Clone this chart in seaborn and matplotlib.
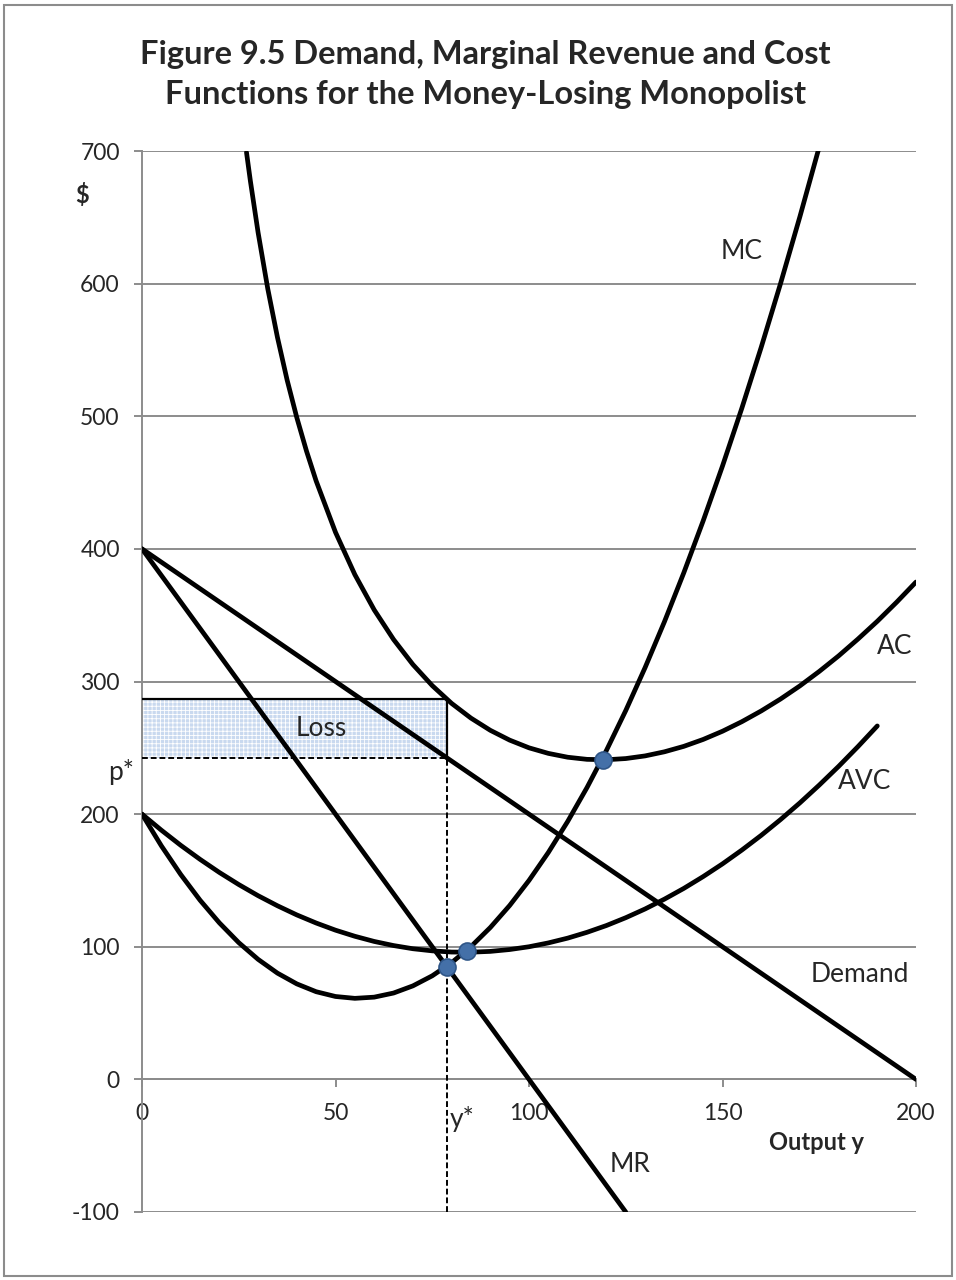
import matplotlib
matplotlib.use("Agg")
import matplotlib.pyplot as plt
import seaborn as sns
import numpy as np
from matplotlib.patches import Rectangle

sns.set_theme(style="white")
plt.rcParams['font.family'] = ['Lato', 'DejaVu Sans']
plt.rcParams['hatch.linewidth'] = 0.6

# ---- data ----
demand_x = [0, 200]
demand_y = [400, 0]
mr_x = [0, 125]
mr_y = [400, -100]

mc_x = list(range(0, 180, 5))
mc_y = [200, 176.1, 154.5, 135.1, 118, 103.1, 90.5, 80.1, 72, 66.1, 62.5, 61.1,
        62, 65.1, 70.5, 78.1, 88, 100.1, 114.5, 131.1, 150, 171.1, 194.5, 220.1,
        248, 278.1, 310.5, 345.1, 382, 421.1, 462.5, 506.1, 552, 600.1, 650.5, 703.1]

avc_x = list(range(0, 195, 5))
avc_y = [200, 187.9, 176.5, 165.9, 156, 146.9, 138.5, 130.9, 124, 117.9, 112.5,
         107.9, 104, 100.9, 98.5, 96.9, 96, 95.9, 96.5, 97.9, 100, 102.9, 106.5,
         110.9, 116, 121.9, 128.5, 135.9, 144, 152.9, 162.5, 172.9, 184, 195.9,
         208.5, 221.9, 236, 250.9, 266.5]

ac_x = [27, 28, 30, 32.5, 35, 37.5, 40, 42.5, 45] + list(range(50, 205, 5))
ac_y = [699.0, 677.5, 638.5, 596.1, 559.5, 527.3, 499, 473.8, 451.2,
        412.5, 380.6, 354, 331.7, 312.8, 296.9, 283.5, 272.4, 263.2, 255.8, 250,
        245.8, 242.9, 241.3, 241, 241.9, 243.9, 247, 251.1, 256.3, 262.5, 269.7,
        277.8, 286.8, 296.7, 307.6, 319.3, 332, 345.4, 359.8, 375]

dot_x = [78.7, 84.0, 119.0]
dot_y = [85, 96.5, 241]

y_star = 78.7
p_star = 242.6
ac_at_ystar = 286.5

x_ticks = [0, 50, 100, 150, 200]
y_ticks = [-100, 0, 100, 200, 300, 400, 500, 600, 700]

title = "Figure 9.5 Demand, Marginal Revenue and Cost\nFunctions for the Money-Losing Monopolist"

# ---- figure ----
fig = plt.figure(figsize=(9.56, 12.8), dpi=100)
ax = fig.add_axes([142/956, 1 - 1212/1280, (916-142)/956, (1212-151)/1280])

grid_col = '#8c8c8c'
ax.set_xlim(0, 200)
ax.set_ylim(-100, 700)
ax.set_yticks(y_ticks)
ax.set_xticks(x_ticks)
for v in y_ticks:
    ax.axhline(v, color=grid_col, lw=1.4, zorder=1)

for s in ['top', 'right']:
    ax.spines[s].set_visible(False)
ax.spines['left'].set_color(grid_col)
ax.spines['left'].set_linewidth(1.4)
ax.spines['bottom'].set_position(('data', 0))
ax.spines['bottom'].set_color(grid_col)
ax.spines['bottom'].set_linewidth(1.4)

tfs = 16.5
ax.tick_params(axis='y', direction='out', length=6, width=1.4, color=grid_col,
               pad=10, labelsize=tfs, left=True)
ax.tick_params(axis='x', direction='out', length=6, width=1.4, color=grid_col,
               pad=11, labelsize=tfs, bottom=True)
ax.set_xticklabels([str(v) for v in x_ticks])
ax.set_yticklabels([str(v) for v in y_ticks])

# Loss rectangle
ax.add_patch(Rectangle((0, p_star), y_star, ac_at_ystar - p_star,
                       facecolor='#c9d9ef', edgecolor='white', hatch='++++',
                       linewidth=0, zorder=2))
ax.plot([0, y_star], [ac_at_ystar, ac_at_ystar], color='black', lw=1.6, zorder=3)
ax.plot([y_star, y_star], [p_star, ac_at_ystar], color='black', lw=1.6, zorder=3)
ax.plot([0, y_star], [p_star, p_star], color='black', lw=1.4, ls=(0, (3, 1.5)), zorder=3)
ax.plot([y_star, y_star], [-100, p_star], color='black', lw=1.4, ls=(0, (3, 1.5)), zorder=3)

lw = 3.4
for xs, ys in [(demand_x, demand_y), (mr_x, mr_y), (mc_x, mc_y), (avc_x, avc_y), (ac_x, ac_y)]:
    sns.lineplot(x=xs, y=ys, ax=ax, color='black', lw=lw, sort=False, zorder=4)

sns.scatterplot(x=dot_x, y=dot_y, ax=ax, s=150, color='#4470a8',
                edgecolor='#2f5688', linewidth=1.2, zorder=6)

fs = 19
ax.text(155, 624, "MC", fontsize=fs, ha='center', va='center')
ax.text(194.6, 326.5, "AC", fontsize=fs, ha='center', va='center')
ax.text(186.8, 224.7, "AVC", fontsize=fs, ha='center', va='center')
ax.text(185.5, 79, "Demand", fontsize=fs, ha='center', va='center')
ax.text(126, -64, "MR", fontsize=fs, ha='center', va='center')
ax.text(46.3, 264.7, "Loss", fontsize=fs, ha='center', va='center', zorder=5)
ax.text(82.7, -30, "y*", fontsize=fs, ha='center', va='center')
ax.text(-5.4, 231.5, "p*", fontsize=fs, ha='center', va='center', clip_on=False)
ax.text(174.4, -47.5, "Output y", fontsize=17, fontweight='bold', ha='center', va='center')
ax.text(-15.5, 667, "$", fontsize=17, fontweight='bold', ha='center', va='center', clip_on=False)

fig.text(0.508, 0.942, title, fontsize=23.5, fontweight='bold', ha='center', va='center',
         linespacing=1.45)

fig.patches.append(Rectangle((0.004, 0.003), 0.992, 0.993, transform=fig.transFigure,
                             fill=False, edgecolor='#8c8c8c', lw=1.5))

fig.savefig('out.png', dpi=100)
